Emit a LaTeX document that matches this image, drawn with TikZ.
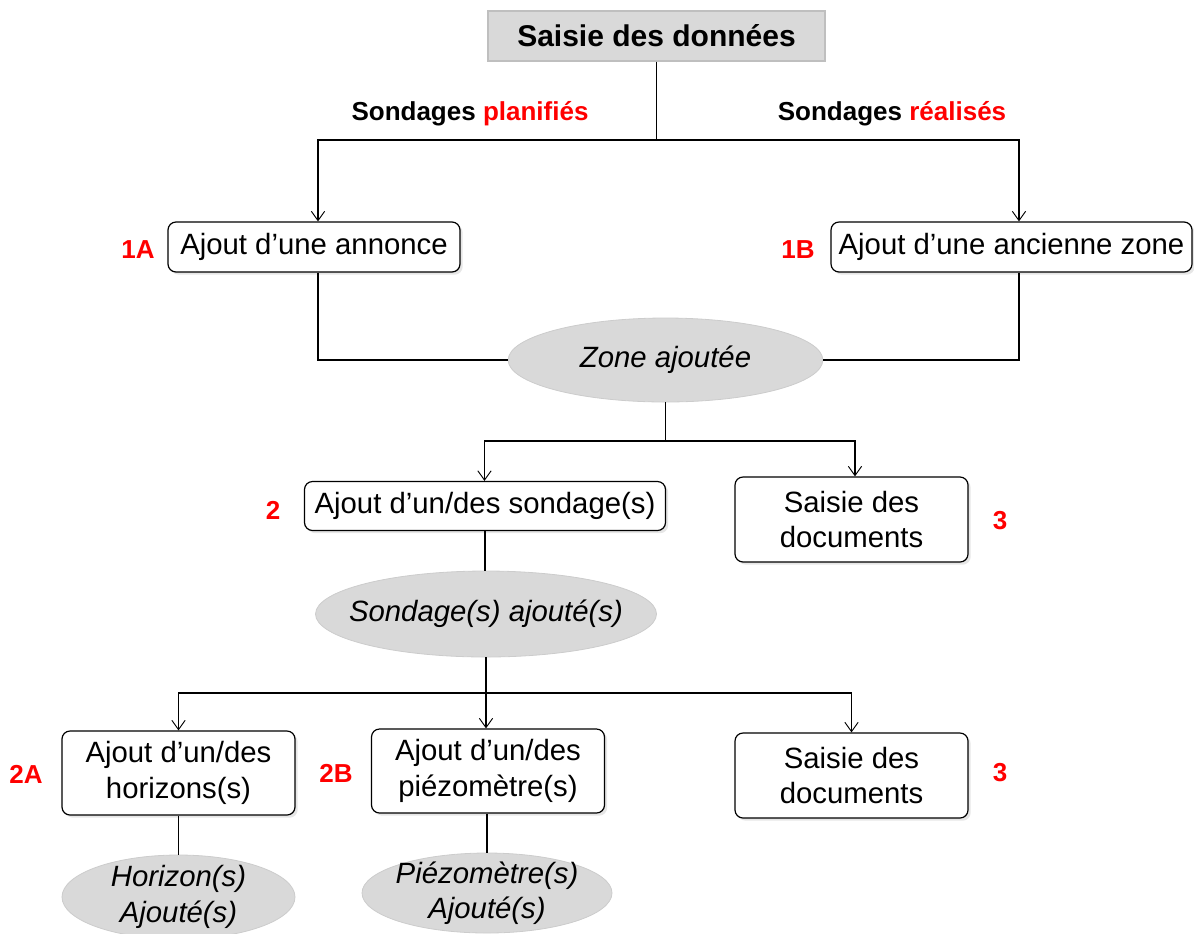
\documentclass[tikz,border=0pt]{standalone}
\usepackage{fontspec}
\setmainfont{Liberation Sans}
\usetikzlibrary{shapes.geometric,shadows,arrows.meta}
\begin{document}
\begin{tikzpicture}[x=0.75pt,y=-0.75pt,
  txt/.style={font=\fontsize{22}{26.5}\selectfont},
  box/.style={txt,draw=black,line width=0.9pt,rounded corners=6pt,fill=white,align=center,inner sep=0pt,
    drop shadow={opacity=0.2,shadow xshift=2pt,shadow yshift=-2pt}},
  oval/.style={ellipse,draw=gray!40,line width=0.6pt,fill=gray!30,inner sep=0pt},
  ovaltxt/.style={align=center,inner sep=0pt,font=\fontsize{22}{26.5}\selectfont\itshape},
  conn/.style={line width=0.9pt},
  arr/.style={conn,-{Straight Barb[length=7pt,width=10pt,line width=0.7pt]}},
  num/.style={text=red,font=\fontsize{19.5}{22}\selectfont\bfseries},
  branch/.style={font=\fontsize{19.5}{22}\selectfont\bfseries}]
\useasboundingbox (0,0) rectangle (1194,933);

\node[draw=gray!50,fill=gray!30,line width=0.8pt,minimum width=252.75pt,minimum height=37.5pt,inner sep=0pt,
  font=\fontsize{22.5}{26}\selectfont\bfseries] (top) at (656.5,36) {Saisie des données};

\node[branch] (lp) at (470,114) {Sondages \textcolor{red}{planifiés}};
\node[branch] (lr) at (892,114) {Sondages \textcolor{red}{réalisés}};

\node[box,minimum width=219pt,minimum height=37.5pt] (b1a) at (314,247) {Ajout d’une annonce};
\node[box,minimum width=270.75pt,minimum height=37.5pt] (b1b) at (1011.5,247) {Ajout d’une ancienne zone};
\node[num] (n1a) at (138,250) {1A};
\node[num] (n1b) at (798,250) {1B};

\node[oval,minimum width=236pt,minimum height=63pt] (z) at (665.5,360) {};
\node[ovaltxt] (zt) at (z.center) {Zone ajoutée};

\node[box,minimum width=270.75pt,minimum height=36.75pt] (b2) at (485,506) {Ajout d’un/des sondage(s)};
\node[box,minimum width=174.75pt,minimum height=63.75pt] (b3a) at (851.5,519.5) {Saisie des\\documents};
\node[num] (n2) at (273,510) {2};
\node[num] (n3a) at (1000,521) {3};

\node[oval,minimum width=255.75pt,minimum height=64.5pt] (e2) at (486,614) {};
\node[ovaltxt] (e2t) at (e2.center) {Sondage(s) ajouté(s)};

\node[box,minimum width=174.75pt,minimum height=63pt] (b2A) at (178.5,773) {Ajout d’un/des\\horizons(s)};
\node[box,minimum width=174.75pt,minimum height=63pt] (b2B) at (488,771) {Ajout d’un/des\\piézomètre(s)};
\node[box,minimum width=174.75pt,minimum height=63.75pt] (b3b) at (851.5,775.5) {Saisie des\\documents};
\node[num] (n2A) at (26,774) {2A};
\node[num] (n2B) at (336,773) {2B};
\node[num] (n3b) at (1000,773) {3};

\node[oval,minimum width=174.75pt,minimum height=63pt] (e2A) at (178.5,897) {};
\node[ovaltxt] (e2At) at (e2A.center) {Horizon(s)\\Ajouté(s)};
\node[oval,minimum width=187.5pt,minimum height=60pt] (e2B) at (487,893) {};
\node[ovaltxt] (e2Bt) at (e2B.center) {Piézomètre(s)\\Ajouté(s)};

\coordinate (j1) at (656.5,140);
\coordinate (j2) at (665.5,441);
\coordinate (j3) at (486,693);

\draw[conn] (top.south) -- (j1);
\draw[arr] (j1) -| ([xshift=3pt]b1a.north);
\draw[arr] (j1) -| ([xshift=5.6pt]b1b.north);
\draw[conn] ([xshift=3pt]b1a.south) |- (z.west);
\draw[conn] ([xshift=5.6pt]b1b.south) |- (z.east);
\draw[conn] (z.south) -- (j2);
\draw[arr] (j2) -| ([xshift=-0.4pt]b2.north);
\draw[arr] (j2) -| ([xshift=2.6pt]b3a.north);
\draw[conn] (b2.south) -- (b2.south |- e2.north);
\draw[conn] (e2.south) -- (j3);
\draw[arr] (j3) -| (b2A.north);
\draw[arr] (j3) -- (j3 |- b2B.north);
\draw[arr] (j3) -| (b3b.north);
\draw[conn] (b2A.south) -- (e2A.north);
\draw[conn] (b2B.south -| e2B.north) -- (e2B.north);
\end{tikzpicture}
\end{document}
